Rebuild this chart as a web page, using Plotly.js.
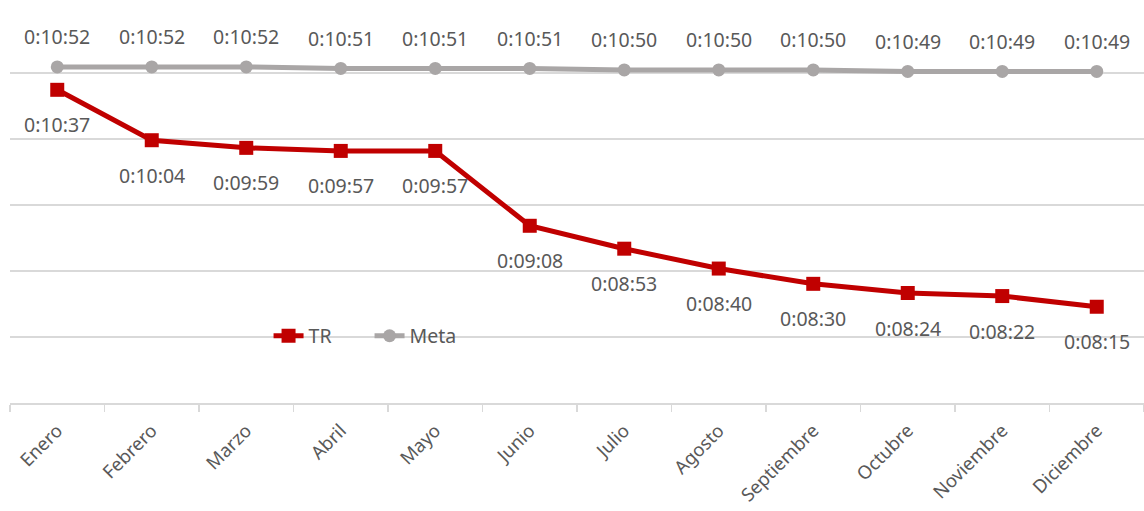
<!DOCTYPE html>
<html>
<head>
<meta charset="utf-8">
<script src="https://cdn.plot.ly/plotly-3.0.1.min.js"></script>
<style>
  html, body { margin: 0; padding: 0; background: #fff; }
  #chart { width: 1144px; height: 511px; }
</style>
</head>
<body>
<div id="chart"></div>
<script>
// Monthly response time (TR) against the target (Meta), h:mm:ss
const meses = ["Enero", "Febrero", "Marzo", "Abril", "Mayo", "Junio",
  "Julio", "Agosto", "Septiembre", "Octubre", "Noviembre", "Diciembre"];
const tr = ["0:10:37", "0:10:04", "0:09:59", "0:09:57", "0:09:57", "0:09:08",
  "0:08:53", "0:08:40", "0:08:30", "0:08:24", "0:08:22", "0:08:15"];
const meta = ["0:10:52", "0:10:52", "0:10:52", "0:10:51", "0:10:51", "0:10:51",
  "0:10:50", "0:10:50", "0:10:50", "0:10:49", "0:10:49", "0:10:49"];

// h:mm:ss -> seconds
function toSec(s) {
  const p = s.split(":").map(Number);
  return p[0] * 3600 + p[1] * 60 + p[2];
}

const DAY = 86400;
const family = "Noto Sans, Liberation Sans, sans-serif";
const labelFont = { family: family, size: 19.5, color: "#595959" };
const tickFont = { family: family, size: 18.5, color: "#595959" };

const traces = [
  {
    x: meses, y: tr.map(toSec), name: "TR",
    type: "scatter", mode: "lines+markers",
    line: { color: "#C00000", width: 5 },
    marker: { symbol: "square", size: 14, color: "#C00000" },
    cliponaxis: false
  },
  {
    x: meses, y: meta.map(toSec), name: "Meta",
    type: "scatter", mode: "lines+markers",
    line: { color: "#A9A6A6", width: 5 },
    marker: { symbol: "circle", size: 13, color: "#A9A6A6" },
    cliponaxis: false
  }
];

// data labels: TR below its point, Meta above
const annotations = [];
meses.forEach(function (m, i) {
  annotations.push({ x: m, y: toSec(tr[i]), text: tr[i], showarrow: false,
    xanchor: "center", yanchor: "middle", yshift: -35, font: labelFont });
  annotations.push({ x: m, y: toSec(meta[i]), text: meta[i], showarrow: false,
    xanchor: "center", yanchor: "middle", yshift: 30, font: labelFont });
});

const layout = {
  width: 1144, height: 511,
  margin: { l: 10, r: 0, t: 7, b: 108 },
  paper_bgcolor: "#fff", plot_bgcolor: "#fff",
  font: labelFont,
  showlegend: true,
  legend: {
    orientation: "h", x: 0.228, y: 0.169, xanchor: "left", yanchor: "middle",
    bgcolor: "rgba(0,0,0,0)", font: labelFont, entrywidth: 56, entrywidthmode: "pixels"
  },
  annotations: annotations,
  xaxis: {
    type: "category", range: [-0.5, meses.length - 0.5], autorange: false,
    tickangle: -45, automargin: false, ticklabelstandoff: 8,
    tickson: "boundaries", ticks: "outside", ticklen: 7, tickcolor: "#D9D9D9", tickwidth: 1.5,
    showline: true, linecolor: "#D9D9D9", linewidth: 1.5,
    showgrid: false, tickfont: tickFont, fixedrange: true
  },
  yaxis: {
    range: [0.005 * DAY, 0.008 * DAY], automargin: false,
    tick0: 0, dtick: 0.0005 * DAY,
    showgrid: true, gridcolor: "#D9D9D9", gridwidth: 1.5,
    showticklabels: false, zeroline: false, showline: false, ticks: "",
    fixedrange: true
  }
};

Plotly.newPlot("chart", traces, layout, { displayModeBar: false, staticPlot: true });
</script>
</body>
</html>
